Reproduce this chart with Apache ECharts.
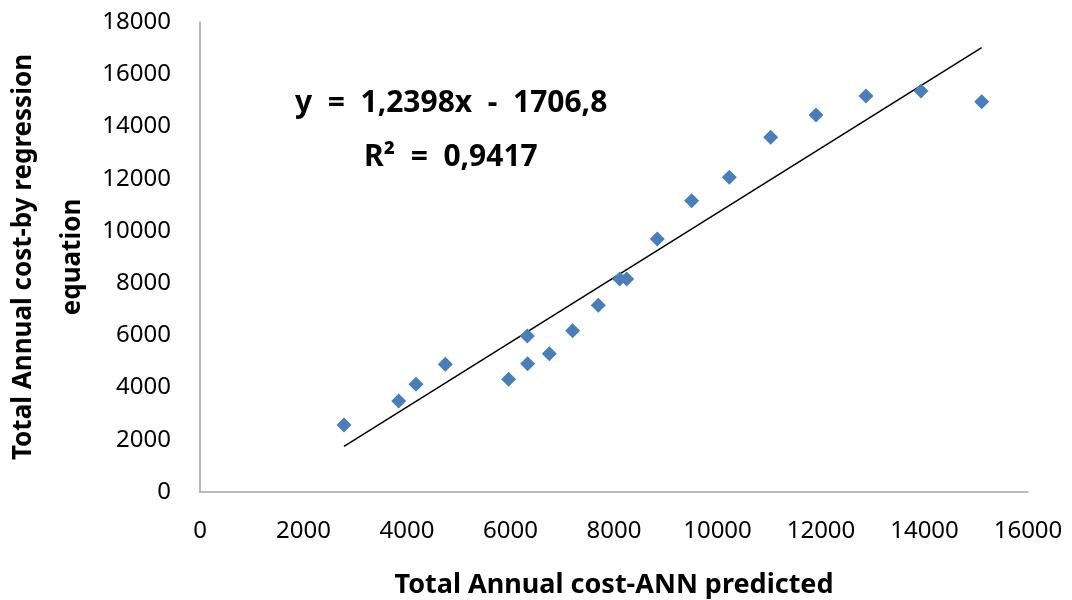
<!DOCTYPE html>
<html>
<head>
<meta charset="utf-8">
<script src="https://cdn.jsdelivr.net/npm/echarts@6/dist/echarts.min.js"></script>
<style>
  html, body { margin: 0; padding: 0; background: #fff; }
  #main { width: 1072px; height: 600px; }
</style>
</head>
<body>
<div id="main"></div>
<script>
// ANN predicted vs regression equation
var annPredicted = [2783, 3840, 4174, 4741, 5964, 6325, 6331, 6750, 7201, 7697, 8110, 8245, 8837, 9500, 10228, 11028, 11903, 12870, 13932, 15105];
var byRegression = [2566, 3485, 4124, 4890, 4315, 5975, 4915, 5298, 6179, 7150, 8158, 8158, 9690, 11157, 12053, 13585, 14439, 15166, 15358, 14950];
var xTicks = [0, 2000, 4000, 6000, 8000, 10000, 12000, 14000, 16000];
var yTicks = [0, 2000, 4000, 6000, 8000, 10000, 12000, 14000, 16000, 18000];
var slope = 1.2398, intercept = -1706.8;
var eqText = 'y  =  1,2398x  -  1706,8';
var r2Text = 'R²  =  0,9417';

var points = annPredicted.map(function (x, i) { return [x, byRegression[i]]; });
var xMin = Math.min.apply(null, annPredicted), xMax = Math.max.apply(null, annPredicted);
var trend = [[xMin, slope * xMin + intercept], [xMax, slope * xMax + intercept]];

var font = '"Noto Sans", "Open Sans", sans-serif';
var plain = function (v) { return String(v); };
var myChart = echarts.init(document.getElementById('main'));
var option = {
    backgroundColor: '#fff',
    animation: false,
    grid: { left: 200, right: 44, top: 22, bottom: 108, containLabel: false, outerBoundsMode: 'none' },
    xAxis: {
        type: 'value',
        min: xTicks[0], max: xTicks[xTicks.length - 1], interval: 2000,
        name: 'Total Annual cost-ANN predicted',
        nameLocation: 'middle', nameGap: 80,
        nameTextStyle: { fontFamily: font, fontSize: 27, fontWeight: 'bold', color: '#000' },
        axisLine: { show: true, lineStyle: { color: '#a6a6a6', width: 1.5 } },
        axisTick: { show: false },
        splitLine: { show: false },
        axisLabel: { margin: 27, fontFamily: font, fontSize: 24, color: '#000', formatter: plain }
    },
    yAxis: {
        type: 'value',
        min: yTicks[0], max: yTicks[yTicks.length - 1], interval: 2000,
        name: 'Total Annual cost-by regression\nequation',
        nameLocation: 'middle', nameGap: 103, nameRotate: 90, nameMoveOverlap: false,
        nameTextStyle: { fontFamily: font, fontSize: 26, fontWeight: 'bold', color: '#000', lineHeight: 49 },
        axisLine: { show: true, lineStyle: { color: '#a6a6a6', width: 1.5 } },
        axisTick: { show: false },
        splitLine: { show: false },
        axisLabel: { margin: 29, fontFamily: font, fontSize: 24, color: '#000', formatter: plain }
    },
    graphic: [
        { type: 'text', left: 295, top: 88, style: { text: eqText, fontFamily: font, fontSize: 30, fontWeight: 'bold', fill: '#000' } },
        { type: 'text', left: 364, top: 142, style: { text: r2Text, fontFamily: font, fontSize: 30, fontWeight: 'bold', fill: '#000' } }
    ],
    series: [
        {
            type: 'line', data: trend, symbol: 'none',
            lineStyle: { color: '#000', width: 1.5 }, z: 1
        },
        {
            type: 'scatter', data: points, symbol: 'diamond', symbolSize: 15,
            itemStyle: { color: '#4a7ebb', opacity: 1 }, z: 2
        }
    ]
};
myChart.setOption(option);
</script>
</body>
</html>
